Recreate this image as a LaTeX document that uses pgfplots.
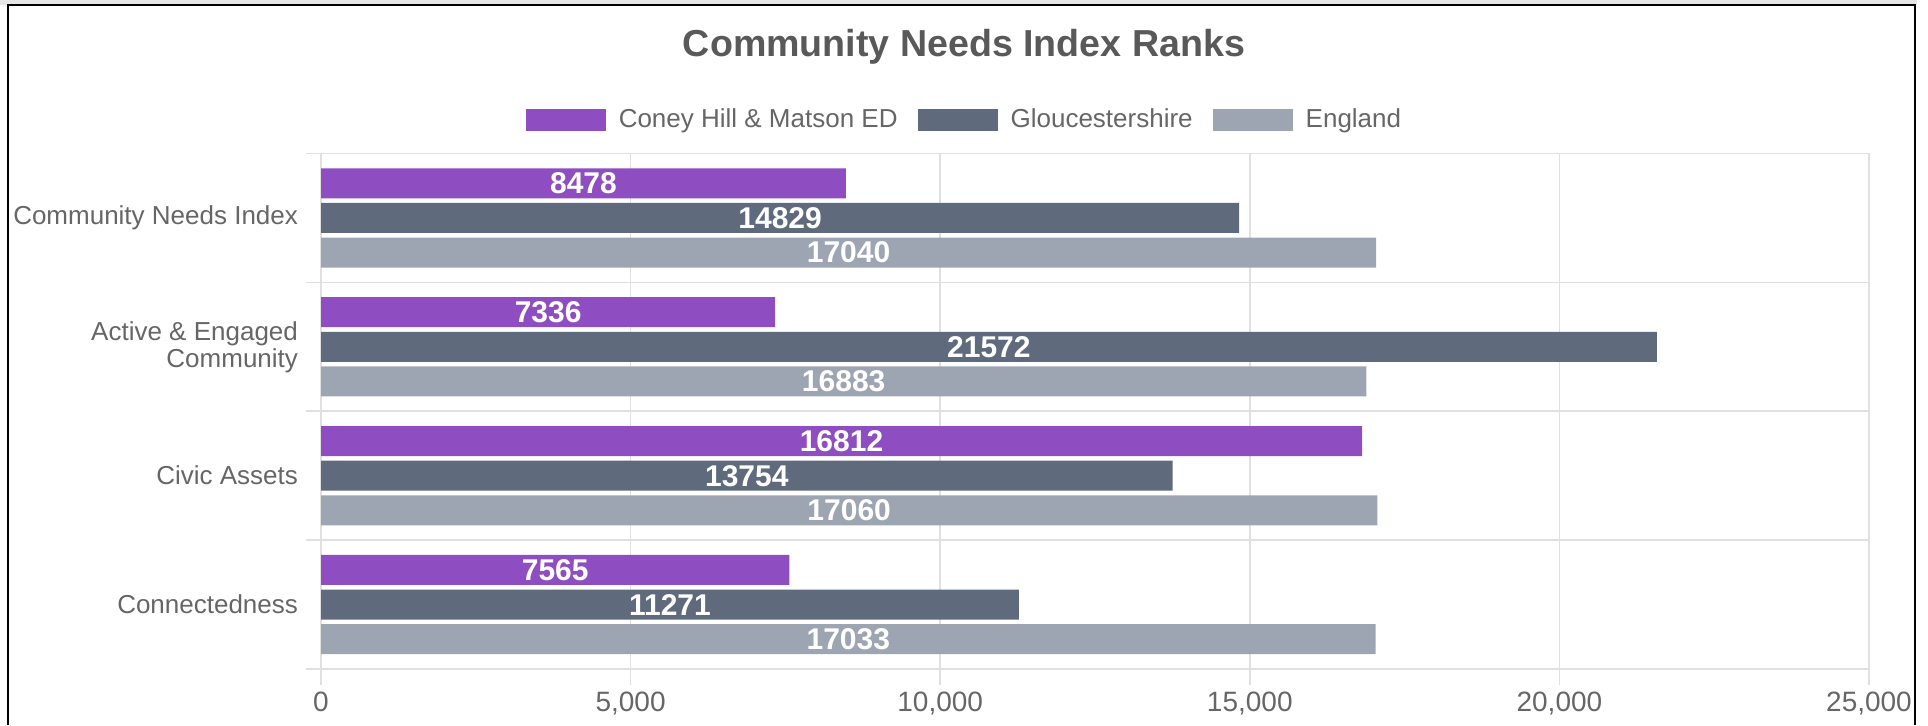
\documentclass[border=0pt]{standalone}
\usepackage{fontspec}
\setmainfont{Liberation Sans}
\usepackage{pgfplots}
\usepackage{pgfplotstable}
\pgfplotsset{compat=1.18}
\definecolor{cpurple}{RGB}{142,77,192}
\definecolor{cdark}{RGB}{95,107,125}
\definecolor{clight}{RGB}{158,165,178}
\definecolor{ctext}{RGB}{102,102,102}
\definecolor{ctitle}{RGB}{89,89,89}
\definecolor{cgrid}{RGB}{224,224,224}
\definecolor{caxis}{RGB}{210,210,210}
\definecolor{cstrip}{RGB}{230,230,230}

\pgfplotstableread{
cat v1 v2 v3
3 8478 14829 17040
2 7336 21572 16883
1 16812 13754 17060
0 7565 11271 17033
}\data

\begin{document}
\begin{tikzpicture}[x=1pt,y=1pt]
\useasboundingbox (0,0) rectangle (964,362.5);
\fill[cstrip] (0,359.75) rectangle (958.5,362.5);
\draw[black, line width=1pt] (4,0) -- (4,359.75) -- (957.5,359.75) -- (957.5,0);
\node[font=\fontsize{18.8}{22}\selectfont\bfseries, text=ctitle] at (482,339) {Community Needs Index Ranks};
\begin{axis}[
  at={(160.5pt,28pt)}, anchor=south west,
  scale only axis, width=774pt, height=257.75pt,
  xmin=0, xmax=25000, ymin=-0.5, ymax=3.5,
  xtick={0,5000,10000,15000,20000,25000},
  scaled x ticks=false,
  xticklabel style={font=\fontsize{14}{16}\selectfont, text=ctext, /pgf/number format/assume math mode=true, /pgf/number format/1000 sep={,}},
  ytick={0,1,2,3},
  yticklabels={Connectedness, Civic Assets, {Active \& Engaged\\Community}, Community Needs Index},
  yticklabel style={font=\fontsize{13}{13.5}\selectfont, text=ctext, align=right},
  minor ytick={-0.5,0.5,1.5,2.5,3.5},
  xmajorgrids, yminorgrids,
  grid style={cgrid, line width=0.8pt},
  tick align=outside,
  xtick pos=bottom, ytick pos=left,
  major tick length=8pt, minor tick length=7.5pt,
  major x tick style={cgrid, line width=0.8pt},
  major y tick style={draw=none},
  minor y tick style={cgrid, line width=0.8pt},
  axis line style={cgrid, line width=0.8pt},
  legend image code/.code={\fill[#1] (0pt,-5.5pt) rectangle (40pt,5.5pt);},
  legend style={draw=none, fill=none, at={(0.4163,1.0653)}, anchor=center,
    legend columns=3, font=\fontsize{13}{15}\selectfont, text=ctext,
    /tikz/every odd column/.append style={column sep=4.5pt},
    /tikz/every even column/.append style={column sep=8pt}},
]
\addplot[xbar, bar width=15pt, bar shift=0pt, fill=cpurple, draw=none] table[x=v1, y expr=\thisrow{cat}+0.2685]{\data};
\addlegendentry{Coney Hill \& Matson ED}
\addplot[xbar, bar width=15pt, bar shift=0pt, fill=cdark, draw=none] table[x=v2, y expr=\thisrow{cat}]{\data};
\addlegendentry{Gloucestershire}
\addplot[xbar, bar width=15pt, bar shift=0pt, fill=clight, draw=none] table[x=v3, y expr=\thisrow{cat}-0.2685]{\data};
\addlegendentry{England}
\addplot[forget plot, draw=none, mark=none, nodes near coords, point meta=explicit symbolic,
  nodes near coords style={text=white, font=\fontsize{15}{17}\selectfont\bfseries, anchor=center}]
  table[x expr=\thisrow{v1}/2, y expr=\thisrow{cat}+0.2685, meta=v1]{\data};
\addplot[forget plot, draw=none, mark=none, nodes near coords, point meta=explicit symbolic,
  nodes near coords style={text=white, font=\fontsize{15}{17}\selectfont\bfseries, anchor=center}]
  table[x expr=\thisrow{v2}/2, y expr=\thisrow{cat}, meta=v2]{\data};
\addplot[forget plot, draw=none, mark=none, nodes near coords, point meta=explicit symbolic,
  nodes near coords style={text=white, font=\fontsize{15}{17}\selectfont\bfseries, anchor=center}]
  table[x expr=\thisrow{v3}/2, y expr=\thisrow{cat}-0.2685, meta=v3]{\data};
\end{axis}
\end{tikzpicture}
\end{document}
